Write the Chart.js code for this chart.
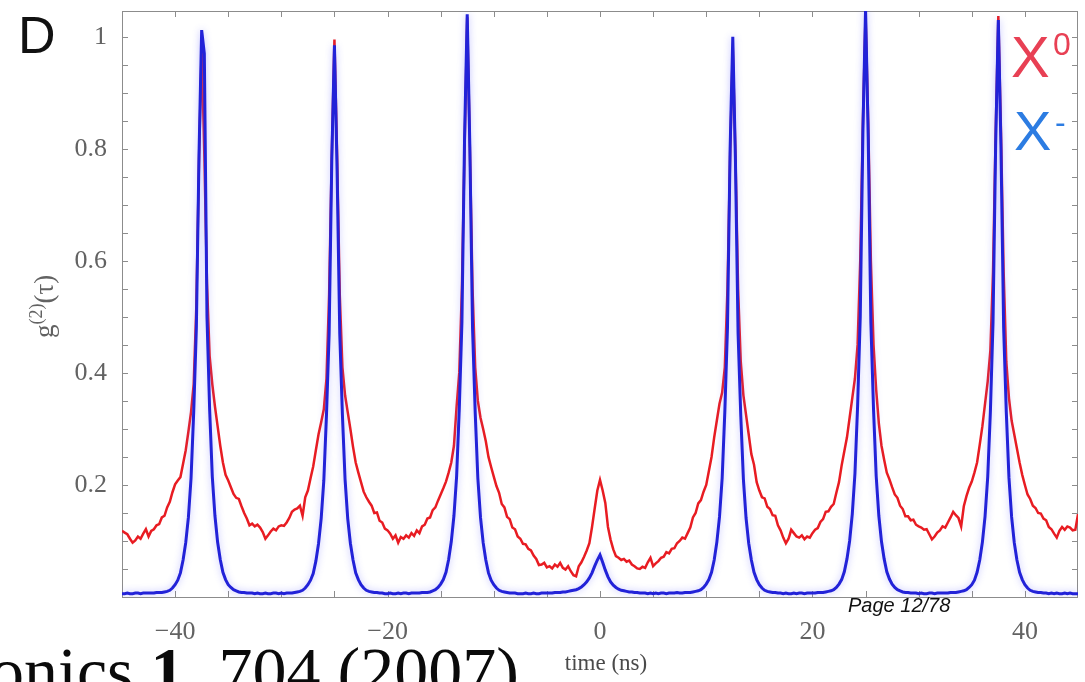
<!DOCTYPE html>
<html>
<head>
<meta charset="utf-8">
<script src="https://cdn.jsdelivr.net/npm/chart.js@4.4.1/dist/chart.umd.min.js"></script>
<style>
  html, body { margin: 0; padding: 0; background: #fff; }
  #g2 { display: block; }
</style>
</head>
<body>
<canvas id="g2" width="1085" height="682"></canvas>
<script>
// correlation histograms, 0.25 ns bins from -45 ns to +45 ns
const tStart = -45
const tStep = 0.25

// neutral exciton X0
const g2X0 = [
  0.118, 0.115, 0.112, 0.104, 0.097, 0.101, 0.108, 0.104, 0.113, 0.121,
  0.108, 0.118, 0.121, 0.128, 0.130, 0.142, 0.145, 0.160, 0.170, 0.187,
  0.201, 0.208, 0.214, 0.238, 0.262, 0.295, 0.330, 0.380, 0.520, 0.780,
  0.980, 0.790, 0.560, 0.430, 0.380, 0.340, 0.305, 0.270, 0.240, 0.218,
  0.208, 0.196, 0.184, 0.177, 0.175, 0.162, 0.150, 0.140, 0.128, 0.131,
  0.126, 0.129, 0.124, 0.116, 0.104, 0.110, 0.117, 0.122, 0.119, 0.126,
  0.128, 0.127, 0.133, 0.141, 0.152, 0.156, 0.158, 0.163, 0.145, 0.178,
  0.190, 0.212, 0.233, 0.262, 0.290, 0.312, 0.335, 0.390, 0.540, 0.790,
  0.995, 0.790, 0.540, 0.410, 0.360, 0.330, 0.300, 0.268, 0.240, 0.222,
  0.205, 0.188, 0.178, 0.170, 0.163, 0.150, 0.151, 0.136, 0.133, 0.122,
  0.119, 0.113, 0.104, 0.110, 0.097, 0.107, 0.104, 0.110, 0.106, 0.114,
  0.109, 0.119, 0.114, 0.126, 0.129, 0.140, 0.142, 0.155, 0.160, 0.172,
  0.183, 0.194, 0.206, 0.222, 0.240, 0.270, 0.340, 0.400, 0.550, 0.800,
  1.035, 0.800, 0.550, 0.410, 0.350, 0.320, 0.300, 0.278, 0.250, 0.232,
  0.215, 0.198, 0.186, 0.166, 0.160, 0.143, 0.139, 0.124, 0.121, 0.108,
  0.104, 0.095, 0.094, 0.086, 0.083, 0.074, 0.068, 0.057, 0.058, 0.061,
  0.053, 0.055, 0.051, 0.058, 0.054, 0.061, 0.052, 0.049, 0.055, 0.046,
  0.039, 0.037, 0.055, 0.062, 0.072, 0.083, 0.096, 0.125, 0.158, 0.190,
  0.209, 0.190, 0.168, 0.125, 0.102, 0.085, 0.073, 0.070, 0.066, 0.068,
  0.063, 0.065, 0.058, 0.055, 0.051, 0.050, 0.054, 0.052, 0.062, 0.070,
  0.055, 0.060, 0.064, 0.070, 0.072, 0.080, 0.078, 0.086, 0.087, 0.096,
  0.100, 0.106, 0.104, 0.114, 0.124, 0.142, 0.150, 0.167, 0.173, 0.188,
  0.200, 0.225, 0.250, 0.285, 0.315, 0.345, 0.365, 0.410, 0.550, 0.790,
  0.980, 0.790, 0.550, 0.420, 0.360, 0.325, 0.290, 0.255, 0.236, 0.205,
  0.190, 0.178, 0.176, 0.161, 0.157, 0.146, 0.145, 0.128, 0.119, 0.106,
  0.096, 0.104, 0.120, 0.114, 0.108, 0.106, 0.110, 0.103, 0.108, 0.106,
  0.114, 0.120, 0.123, 0.134, 0.139, 0.152, 0.153, 0.161, 0.166, 0.186,
  0.205, 0.235, 0.260, 0.285, 0.320, 0.355, 0.390, 0.450, 0.600, 0.850,
  1.040, 0.850, 0.600, 0.450, 0.370, 0.310, 0.270, 0.245, 0.222, 0.210,
  0.196, 0.183, 0.177, 0.163, 0.157, 0.144, 0.144, 0.137, 0.138, 0.129,
  0.126, 0.124, 0.120, 0.121, 0.112, 0.103, 0.108, 0.115, 0.119, 0.126,
  0.124, 0.133, 0.142, 0.152, 0.146, 0.141, 0.126, 0.162, 0.180, 0.195,
  0.206, 0.222, 0.240, 0.272, 0.305, 0.345, 0.385, 0.440, 0.580, 0.830,
  1.037, 0.830, 0.580, 0.420, 0.355, 0.315, 0.290, 0.265, 0.240, 0.218,
  0.200, 0.183, 0.175, 0.163, 0.159, 0.150, 0.149, 0.140, 0.137, 0.125,
  0.121, 0.113, 0.106, 0.118, 0.125, 0.120, 0.126, 0.124, 0.119, 0.120,
  0.148
]

// charged exciton X-
const g2Xminus = [
  0.006, 0.006, 0.007, 0.006, 0.006, 0.007, 0.007, 0.006, 0.007, 0.007,
  0.007, 0.007, 0.007, 0.008, 0.008, 0.008, 0.009, 0.010, 0.012, 0.016,
  0.022, 0.030, 0.043, 0.066, 0.097, 0.142, 0.212, 0.330, 0.480, 0.790,
  1.012, 0.970, 0.500, 0.335, 0.215, 0.145, 0.098, 0.067, 0.044, 0.031,
  0.022, 0.017, 0.013, 0.011, 0.009, 0.008, 0.008, 0.007, 0.007, 0.007,
  0.006, 0.007, 0.006, 0.006, 0.007, 0.006, 0.006, 0.007, 0.007, 0.006,
  0.007, 0.006, 0.007, 0.007, 0.007, 0.008, 0.009, 0.010, 0.012, 0.016,
  0.022, 0.030, 0.042, 0.064, 0.095, 0.140, 0.208, 0.325, 0.470, 0.780,
  0.985, 0.760, 0.470, 0.325, 0.210, 0.140, 0.096, 0.066, 0.043, 0.031,
  0.022, 0.016, 0.012, 0.010, 0.009, 0.008, 0.008, 0.007, 0.007, 0.006,
  0.006, 0.007, 0.006, 0.006, 0.007, 0.006, 0.007, 0.007, 0.006, 0.007,
  0.007, 0.007, 0.007, 0.008, 0.008, 0.008, 0.009, 0.011, 0.013, 0.017,
  0.023, 0.031, 0.044, 0.067, 0.099, 0.145, 0.215, 0.335, 0.490, 0.820,
  1.040, 0.800, 0.480, 0.330, 0.212, 0.142, 0.097, 0.066, 0.043, 0.030,
  0.022, 0.016, 0.012, 0.010, 0.009, 0.008, 0.007, 0.007, 0.007, 0.006,
  0.006, 0.006, 0.007, 0.006, 0.006, 0.007, 0.006, 0.006, 0.007, 0.007,
  0.007, 0.007, 0.007, 0.008, 0.008, 0.008, 0.009, 0.009, 0.010, 0.011,
  0.012, 0.013, 0.015, 0.018, 0.022, 0.027, 0.034, 0.043, 0.055, 0.066,
  0.075, 0.062, 0.048, 0.036, 0.027, 0.021, 0.017, 0.014, 0.012, 0.011,
  0.010, 0.009, 0.009, 0.008, 0.008, 0.007, 0.007, 0.007, 0.006, 0.007,
  0.006, 0.007, 0.006, 0.007, 0.007, 0.006, 0.007, 0.007, 0.007, 0.008,
  0.007, 0.007, 0.008, 0.008, 0.008, 0.009, 0.010, 0.011, 0.013, 0.017,
  0.023, 0.031, 0.044, 0.066, 0.098, 0.143, 0.212, 0.330, 0.480, 0.800,
  1.000, 0.780, 0.470, 0.325, 0.210, 0.141, 0.096, 0.066, 0.044, 0.031,
  0.022, 0.016, 0.012, 0.010, 0.009, 0.008, 0.008, 0.007, 0.007, 0.006,
  0.007, 0.006, 0.006, 0.007, 0.006, 0.007, 0.007, 0.006, 0.007, 0.007,
  0.007, 0.007, 0.008, 0.008, 0.008, 0.009, 0.010, 0.011, 0.013, 0.017,
  0.023, 0.031, 0.045, 0.068, 0.100, 0.148, 0.220, 0.340, 0.500, 0.830,
  1.050, 0.820, 0.490, 0.335, 0.216, 0.145, 0.099, 0.068, 0.045, 0.032,
  0.023, 0.017, 0.013, 0.011, 0.009, 0.008, 0.008, 0.007, 0.007, 0.007,
  0.006, 0.007, 0.006, 0.006, 0.007, 0.007, 0.006, 0.007, 0.007, 0.007,
  0.007, 0.007, 0.008, 0.008, 0.008, 0.009, 0.010, 0.011, 0.013, 0.017,
  0.022, 0.030, 0.044, 0.066, 0.098, 0.144, 0.214, 0.330, 0.490, 0.810,
  1.030, 0.800, 0.480, 0.330, 0.213, 0.143, 0.097, 0.066, 0.044, 0.031,
  0.022, 0.016, 0.012, 0.010, 0.009, 0.008, 0.008, 0.007, 0.007, 0.006,
  0.007, 0.006, 0.007, 0.006, 0.006, 0.007, 0.006, 0.007, 0.006, 0.006,
  0.006
]

const xTickLabels = [-40, -20, 0, 20, 40]
const yTickLabels = [0.2, 0.4, 0.6, 0.8, 1]
const xMinorTicks = [-40, -35, -30, -25, -20, -15, -10, -5, 0, 5, 10, 15, 20, 25, 30, 35, 40]
const yMinorTicks = [0.05, 0.1, 0.15, 0.2, 0.25, 0.3, 0.35, 0.4, 0.45, 0.5,
                     0.55, 0.6, 0.65, 0.7, 0.75, 0.8, 0.85, 0.9, 0.95, 1]

const times = g2X0.map((_, i) => tStart + i * tStep)
const toPoints = (series) => series.map((v, i) => ({ x: times[i], y: v }))

const colors = {
    red: 'rgb(232, 28, 34)',
    blue: 'rgb(34, 34, 216)',
    axis: '#8c8c8c',
    tick: '#626262',
    legendRed: 'rgb(232, 64, 84)',
    legendBlue: 'rgb(44, 124, 226)'
}
const serif = '"Liberation Serif", "Times New Roman", serif'
const sans = '"Liberation Sans", Arial, sans-serif'

// frame, inward ticks and the loose text around the plot
const decorations = {
    id: 'decorations',
    beforeDatasetsDraw(chart) {
        const { ctx, chartArea: a, scales: { x, y } } = chart
        ctx.save()
        ctx.strokeStyle = colors.axis
        ctx.lineWidth = 1
        ctx.strokeRect(a.left + 0.5, a.top + 0.5, a.right - a.left - 1, a.bottom - a.top)
        ctx.beginPath()
        xMinorTicks.forEach(v => {
            const px = Math.round(x.getPixelForValue(v)) + 0.5
            ctx.moveTo(px, a.bottom); ctx.lineTo(px, a.bottom - 6)
            ctx.moveTo(px, a.top); ctx.lineTo(px, a.top + 6)
        })
        yMinorTicks.forEach(v => {
            const py = Math.round(y.getPixelForValue(v)) + 0.5
            ctx.moveTo(a.left, py); ctx.lineTo(a.left + 6, py)
            ctx.moveTo(a.right, py); ctx.lineTo(a.right - 6, py)
        })
        ctx.stroke()
        ctx.restore()
    },
    beforeDatasetDraw(chart, args) {
        if (args.meta.label !== 'X-') return
        chart.ctx.save()
        chart.ctx.shadowColor = 'rgba(110, 110, 255, 0.45)'
        chart.ctx.shadowBlur = 7
    },
    afterDatasetDraw(chart, args) {
        if (args.meta.label !== 'X-') return
        chart.ctx.restore()
    },
    afterDraw(chart) {
        const ctx = chart.ctx
        ctx.save()
        ctx.textBaseline = 'alphabetic'
        ctx.textAlign = 'left'

        ctx.fillStyle = '#111'
        ctx.font = `52px ${sans}`
        ctx.fillText('D', 18, 53)

        // legend
        ctx.fillStyle = colors.legendRed
        ctx.font = `58px ${sans}`
        ctx.fillText('X', 1011, 77)
        ctx.font = `32px ${sans}`
        ctx.fillText('0', 1053, 55)
        ctx.fillStyle = colors.legendBlue
        ctx.font = `56px ${sans}`
        ctx.fillText('X', 1014, 150)
        ctx.font = `32px ${sans}`
        ctx.fillText('-', 1055, 133)

        // y axis title g(2)(tau), rotated
        ctx.save()
        ctx.translate(53, 338)
        ctx.rotate(-Math.PI / 2)
        ctx.fillStyle = colors.tick
        ctx.font = `27px ${serif}`
        ctx.fillText('g', 0, 0)
        let w = ctx.measureText('g').width
        ctx.font = `18px ${serif}`
        ctx.fillText('(2)', w, -11)
        w += ctx.measureText('(2)').width
        ctx.font = `27px ${serif}`
        ctx.fillText('(\u03c4)', w, 0)
        ctx.restore()

        // x axis title
        ctx.fillStyle = '#4a4a4a'
        ctx.font = `23px ${serif}`
        ctx.textAlign = 'center'
        ctx.fillText('time (ns)', 606, 670)

        ctx.textAlign = 'left'
        ctx.fillStyle = '#111'
        ctx.font = `italic 20px ${sans}`
        ctx.fillText('Page 12/78', 848, 612)

        // citation line running off the bottom
        ctx.fillStyle = '#0a0a0a'
        let cx = -10
        ctx.font = `68px ${serif}`
        ctx.fillText('onics ', cx, 694)
        cx += ctx.measureText('onics ').width
        ctx.font = `bold 68px ${serif}`
        ctx.fillText('1', cx, 694)
        cx += ctx.measureText('1').width
        ctx.font = `68px ${serif}`
        ctx.fillText(', 704 (2007)', cx, 694)
        ctx.restore()
    }
}

const chart = new Chart(document.getElementById('g2'), {
    type: 'line',
    data: {
        datasets: [
            {
                label: 'X-',
                data: toPoints(g2Xminus),
                borderColor: colors.blue,
                borderWidth: 3,
                pointRadius: 0,
                order: 0
            },
            {
                label: 'X0',
                data: toPoints(g2X0),
                borderColor: colors.red,
                borderWidth: 2.5,
                pointRadius: 0,
                order: 1
            }
        ]
    },
    options: {
        responsive: false,
        animation: false,
        events: [],
        layout: { padding: { top: 11, right: 7, left: 0, bottom: 0 } },
        plugins: {
            legend: { display: false },
            tooltip: { enabled: false }
        },
        scales: {
            x: {
                type: 'linear',
                min: -45,
                max: 45,
                grid: { display: false, drawTicks: false },
                border: { display: false },
                afterBuildTicks: (s) => { s.ticks = xTickLabels.map(v => ({ value: v })) },
                afterFit: (s) => {
                    s.height = 85
                    s.paddingLeft = 0
                    s.paddingRight = 0
                },
                ticks: {
                    padding: 20,
                    autoSkip: false,
                    maxRotation: 0,
                    color: colors.tick,
                    font: { family: serif, size: 26 },
                    callback: (v) => v < 0 ? '\u2212' + (-v) : String(v)
                }
            },
            y: {
                min: 0,
                max: 1.046,
                grid: { display: false, drawTicks: false },
                border: { display: false },
                afterBuildTicks: (s) => { s.ticks = yTickLabels.map(v => ({ value: v })) },
                afterFit: (s) => {
                    s.width = 122
                    s.paddingTop = 0
                    s.paddingBottom = 0
                },
                ticks: {
                    padding: 15,
                    color: colors.tick,
                    font: { family: serif, size: 26 },
                    callback: (v) => v === 1 ? '1' : v.toFixed(1)
                }
            }
        }
    },
    plugins: [decorations]
})
</script>
</body>
</html>
